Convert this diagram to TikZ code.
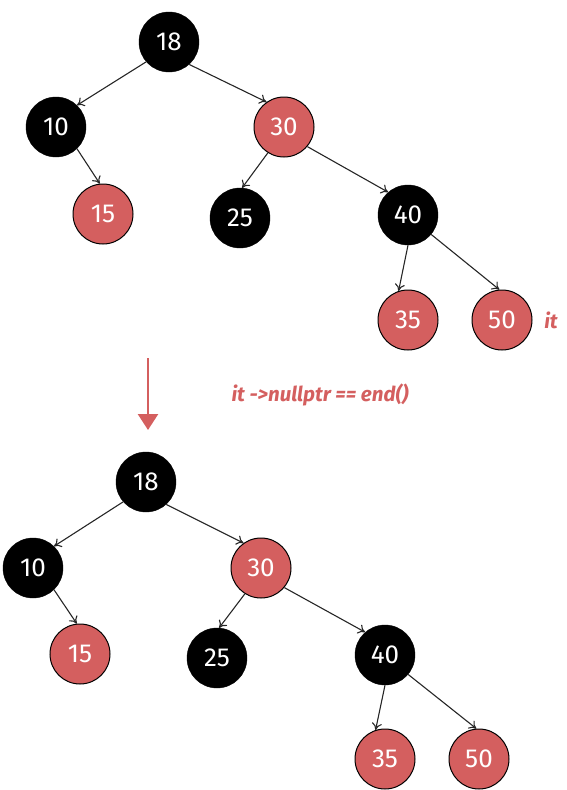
\documentclass[tikz,border=0pt]{standalone}
\usepackage{fontspec}
\setmainfont{Fira Sans}
\usetikzlibrary{arrows.meta}
\definecolor{rbred}{HTML}{D45F5F}
\tikzset{
  rbnode/.style={circle, minimum size=60pt, inner sep=0pt, text=white, font=\fontsize{26}{28}\selectfont},
  blk/.style={rbnode, fill=black, draw=black},
  rd/.style={rbnode, fill=rbred, draw=black, line width=1pt},
  edge/.style={-{To[length=7pt,width=10pt]}, line width=1.1pt, black!85},
  lbl/.style={text=rbred, font=\fontsize{20.5}{22}\selectfont\bfseries\itshape},
}
\begin{document}
\begin{tikzpicture}[x=1pt,y=-1pt]
\useasboundingbox (0,0) rectangle (566,790);
% top tree
\node[blk] (a18) at (169,42) {18};
\node[blk] (a10) at (56,127) {10};
\node[rd]  (a30) at (284,127) {30};
\node[rd]  (a15) at (103,214) {15};
\node[blk] (a25) at (240,218) {25};
\node[blk] (a40) at (408,215) {40};
\node[rd]  (a35) at (408,320) {35};
\node[rd]  (a50) at (502,320) {50};
\node[lbl] (it) at (551,320) {it};
\draw[edge] (a18.221) -- (a10.46);
\draw[edge] (a18.-48) -- (a30.125);
\draw[edge] (a10.-46) -- (a15.96);
\draw[edge] (a30.-122) -- (a25.86);
\draw[edge] (a30.-40) -- (a40.131);
\draw[edge] (a40.south) -- (a35.108);
\draw[edge] (a40.-40) -- (a50.95);
% transition arrow
\coordinate (t1) at (148,358);
\coordinate (t2) at (148,430);
\draw[rbred, line width=2.6pt, -{Triangle[length=16pt,width=20pt]}] (t1) -- (t2);
\node[lbl] (cap) at (320,395) {it ->nullptr == end()};
% bottom tree
\node[blk] (b18) at (146,482) {18};
\node[blk] (b10) at (33,568) {10};
\node[rd]  (b30) at (261,568) {30};
\node[rd]  (b15) at (80,654) {15};
\node[blk] (b25) at (217,658) {25};
\node[blk] (b40) at (385,655) {40};
\node[rd]  (b35) at (385,759) {35};
\node[rd]  (b50) at (479,759) {50};
\draw[edge] (b18.221) -- (b10.46);
\draw[edge] (b18.-48) -- (b30.125);
\draw[edge] (b10.-46) -- (b15.96);
\draw[edge] (b30.-122) -- (b25.86);
\draw[edge] (b30.-40) -- (b40.131);
\draw[edge] (b40.south) -- (b35.108);
\draw[edge] (b40.-40) -- (b50.95);
\end{tikzpicture}
\end{document}
